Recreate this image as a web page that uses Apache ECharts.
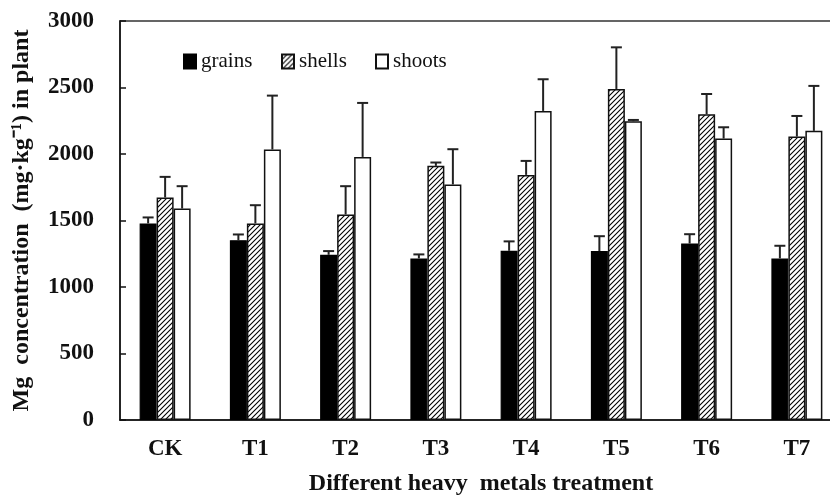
<!DOCTYPE html>
<html>
<head>
<meta charset="utf-8">
<script src="https://cdn.jsdelivr.net/npm/echarts@6/dist/echarts.min.js"></script>
<style>html,body{margin:0;padding:0;background:#fff;}#c{width:830px;height:495px;}</style>
</head>
<body>
<div id="c"></div>
<script>
const categories = ['CK', 'T1', 'T2', 'T3', 'T4', 'T5', 'T6', 'T7'];
const grains = [1478, 1352, 1242, 1215, 1272, 1270, 1327, 1215];
const grainsErr = [45, 43, 28, 30, 71, 112, 70, 95];
const shells = [1673, 1478, 1545, 1911, 1843, 2489, 2299, 2131];
const shellsErr = [155, 137, 213, 25, 105, 313, 152, 155];
const shoots = [1590, 2034, 1978, 1771, 2324, 2246, 2116, 2174];
const shootsErr = [168, 405, 406, 265, 238, 10, 85, 338];
const yTicks = [0, 500, 1000, 1500, 2000, 2500, 3000];

// hatch pattern
const pc = document.createElement('canvas');
pc.width = 5; pc.height = 5;
const g = pc.getContext('2d');
g.fillStyle = '#fff'; g.fillRect(0, 0, 5, 5);
g.strokeStyle = '#000'; g.lineWidth = 1.1;
g.beginPath();
g.moveTo(-1, 6); g.lineTo(6, -1);
g.moveTo(-1, 1); g.lineTo(1, -1);
g.moveTo(4, 6); g.lineTo(6, 4);
g.stroke();
const hatch = { image: pc, repeat: 'repeat' };

const BW = 17;
const serif = 'Liberation Serif';

function errSeries(vals, errs, offset) {
  return {
    type: 'custom',
    z: 5,
    silent: true,
    data: vals.map((v, i) => [i, v, errs[i]]),
    renderItem: function (params, api) {
      const c = api.value(0);
      const p0 = api.coord([c, api.value(1)]);
      const p1 = api.coord([c, api.value(1) + api.value(2)]);
      const x = p0[0] + offset;
      const st = { stroke: '#222', lineWidth: 2 };
      return {
        type: 'group',
        children: [
          { type: 'line', shape: { x1: x, y1: p0[1], x2: x, y2: p1[1] }, style: st },
          { type: 'line', shape: { x1: x - 5.5, y1: p1[1], x2: x + 5.5, y2: p1[1] }, style: st }
        ]
      };
    }
  };
}

const legendText = { fontFamily: serif, fontSize: 21, color: '#111' };
const legendBase = { top: 46, itemWidth: 12, itemHeight: 14, itemGap: 6, icon: 'rect', textStyle: legendText };
const chart = echarts.init(document.getElementById('c'));
chart.setOption({
  animation: false,
  backgroundColor: '#fff',
  grid: { left: 120, top: 21, right: -12, bottom: 75, outerBoundsMode: 'none', containLabel: false,
          show: true, borderColor: '#333', borderWidth: 1.5 },
  legend: [
    Object.assign({ data: ['grains'], left: 178 }, legendBase),
    Object.assign({ data: ['shells'], left: 276 }, legendBase),
    Object.assign({ data: ['shoots'], left: 370 }, legendBase)
  ],
  xAxis: {
    type: 'category',
    data: categories,
    axisLine: { lineStyle: { color: '#111', width: 1.5 } },
    axisTick: { show: false },
    axisLabel: { fontFamily: serif, fontWeight: 'bold', fontSize: 23, color: '#111', margin: 18 },
    name: 'Different heavy  metals treatment',
    nameLocation: 'middle',
    nameGap: 52,
    nameTextStyle: { fontFamily: serif, fontWeight: 'bold', fontSize: 24, color: '#111' }
  },
  yAxis: {
    type: 'value',
    min: 0, max: 3000, interval: 500,
    splitLine: { show: false },
    axisLine: { show: true, lineStyle: { color: '#111', width: 1.5 } },
    axisTick: { show: true, inside: true, length: 6, lineStyle: { color: '#111', width: 1.5 } },
    axisLabel: {
      fontFamily: serif, fontWeight: 'bold', fontSize: 23, color: '#111', margin: 26,
      formatter: v => yTicks.includes(v) ? String(v) : ''
    },
    name: 'Mg  concentration  (mg·kg⁻¹) in plant',
    nameLocation: 'middle',
    nameGap: 86,
    nameTextStyle: { fontFamily: serif, fontWeight: 'bold', fontSize: 24, color: '#111' }
  },
  series: [
    { name: 'grains', type: 'bar', data: grains, barWidth: BW, barGap: '0%',
      itemStyle: { color: '#000', borderColor: '#000', borderWidth: 1.2 } },
    { name: 'shells', type: 'bar', data: shells, barWidth: BW, barGap: '0%',
      itemStyle: { color: hatch, borderColor: '#111', borderWidth: 1.5 } },
    { name: 'shoots', type: 'bar', data: shoots, barWidth: BW, barGap: '0%',
      itemStyle: { color: '#fff', borderColor: '#111', borderWidth: 1.5 } },
    errSeries(grains, grainsErr, -BW),
    errSeries(shells, shellsErr, 0),
    errSeries(shoots, shootsErr, BW)
  ]
});
</script>
</body>
</html>
